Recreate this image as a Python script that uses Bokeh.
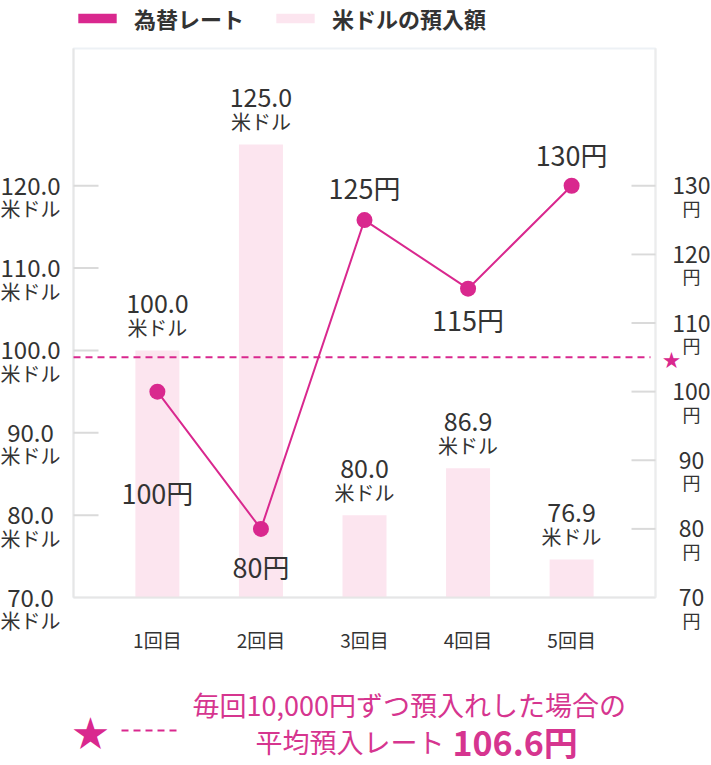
from bokeh.plotting import figure
from bokeh.models import (Range1d, ColumnDataSource, LabelSet, Label, Legend,
                          LegendItem, Arrow)
from bokeh.core.properties import value
from bokeh.embed import file_html
from bokeh.resources import INLINE

# ---------------- data ----------------
categories = ["1回目", "2回目", "3回目", "4回目", "5回目"]
rates = [100, 80, 125, 115, 130]                       # 為替レート (円)
rate_labels = ["100円", "80円", "125円", "115円", "130円"]
deposits = [100.0, 125.0, 80.0, 85.7, 74.6]            # 米ドルの預入額 (bar heights as drawn)
deposit_labels = ["100.0", "125.0", "80.0", "86.9", "76.9"]
usd_ticks = [70, 80, 90, 100, 110, 120]
usd_tick_labels = ["70.0", "80.0", "90.0", "100.0", "110.0", "120.0"]
yen_ticks = [70, 80, 90, 100, 110, 120, 130]
yen_tick_labels = ["70", "80", "90", "100", "110", "120", "130"]
avg_rate_level = 105.0                                  # dashed line level (円 axis)
avg_text_1 = "毎回10,000円ずつ預入れした場合の"
avg_text_2 = "平均預入レート"
avg_text_value = "106.6円"

# ---------------- style / layout ----------------
MAGENTA = "#d9288e"
TEXT_MAG = "#d6358f"
PINK = "#fce5ef"
DARK = "#333333"
FONT = "Noto Sans CJK JP"
rate_label_offsets = [-101, -38, 33, -31, 31]

W, H = 711, 765
PL, PR, PT, PB = 73, 655, 48, 597          # plot area box on the canvas
X_LO, X_HI = 0.19, 5.81
USD_LO, USD_HI = 70, 136.67
YEN_LO, YEN_HI = 70, 150

sx = (PR - PL) / (X_HI - X_LO)
sy = (PB - PT) / (USD_HI - USD_LO)
sr = (PB - PT) / (YEN_HI - YEN_LO)

xs = list(range(1, len(categories) + 1))

p = figure(width=W, height=H, output_backend="svg", toolbar_location=None,
           x_range=Range1d(X_LO - PL / sx, X_HI + (W - PR) / sx),
           y_range=Range1d(USD_LO - (H - PB) / sy, USD_HI + PT / sy),
           x_axis_location=None, y_axis_location=None, min_border=0)
p.extra_y_ranges = {"rate": Range1d(YEN_LO - (H - PB) / sr, YEN_HI + PT / sr)}
p.grid.visible = False
p.outline_line_color = None
p.background_fill_color = "white"
p.border_fill_color = "white"

# plot area box
p.quad(left=[X_LO], right=[X_HI], bottom=[USD_LO], top=[USD_HI],
       fill_color="white", line_color="#edf1f5", line_width=2)

# bars
bars = p.vbar(x=xs, top=deposits, bottom=USD_LO, width=0.425,
              fill_color=PINK, line_color=None)

# axis lines
p.segment(x0=[X_LO, X_LO], y0=[USD_LO, USD_LO], x1=[X_LO, X_HI], y1=[USD_HI, USD_LO],
          line_color="#e6e6e6", line_width=2)
p.segment(x0=[X_HI], y0=[YEN_LO], x1=[X_HI], y1=[YEN_HI], y_range_name="rate",
          line_color="#ececec", line_width=2)

# tick marks (inward)
lt = usd_ticks[1:]
p.segment(x0=[X_LO] * len(lt), x1=[X_LO + 25 / sx] * len(lt), y0=lt, y1=lt,
          line_color="#dadada", line_width=2)
rt = yen_ticks[1:]
p.segment(x0=[X_HI - 24 / sx] * len(rt), x1=[X_HI] * len(rt), y0=rt, y1=rt,
          y_range_name="rate", line_color="#dadada", line_width=2)

# average dashed line
p.line(x=[X_LO, X_HI - 5 / sx], y=[avg_rate_level, avg_rate_level],
       y_range_name="rate", line_color=MAGENTA, line_width=2, line_dash="7 5")

# rate line
p.line(x=xs, y=rates, y_range_name="rate", line_color=MAGENTA, line_width=2)
p.scatter(x=xs, y=rates, y_range_name="rate", size=16, fill_color=MAGENTA,
          line_color=None)

# legend swatch renderer for the rate (zero-height bar, shown only in legend)
swatch = p.vbar(x=[xs[0]], top=[USD_LO], bottom=USD_LO, width=0.4,
                fill_color=MAGENTA, line_color=None)


def labelset(src, text, size, **kw):
    return LabelSet(source=src, text=text, text_align="center",
                    text_baseline="middle", text_font=value(FONT),
                    text_font_size=value(size), text_color=DARK, **kw)


# bar labels
bsrc = ColumnDataSource(dict(x=xs, y=deposits, val=deposit_labels,
                             unit=["米ドル"] * len(xs)))
p.add_layout(labelset(bsrc, "val", "25px", x="x", y="y", y_offset=47))
p.add_layout(labelset(bsrc, "unit", "20px", x="x", y="y", y_offset=23))

# rate labels
rsrc = ColumnDataSource(dict(x=xs, y=rates, t=rate_labels, off=rate_label_offsets))
p.add_layout(labelset(rsrc, "t", "27px", x="x", y="y", y_offset="off",
                      y_range_name="rate"))

# category labels
csrc = ColumnDataSource(dict(x=xs, y=[USD_LO] * len(xs), t=categories))
p.add_layout(labelset(csrc, "t", "19px", x="x", y="y", y_offset=-42))

# left tick labels
lsrc = ColumnDataSource(dict(x=[X_LO] * len(usd_ticks), y=usd_ticks,
                             t=usd_tick_labels, u=["米ドル"] * len(usd_ticks)))
p.add_layout(labelset(lsrc, "t", "24px", x="x", y="y", x_offset=-43))
p.add_layout(labelset(lsrc, "u", "20px", x="x", y="y", x_offset=-43, y_offset=-23))

# right tick labels
rtsrc = ColumnDataSource(dict(x=[X_HI] * len(yen_ticks), y=yen_ticks,
                              t=yen_tick_labels, u=["円"] * len(yen_ticks)))
p.add_layout(labelset(rtsrc, "t", "23px", x="x", y="y", x_offset=36,
                      y_range_name="rate"))
p.add_layout(labelset(rtsrc, "u", "18px", x="x", y="y", x_offset=36, y_offset=-22,
                      y_range_name="rate"))

# star next to right axis
p.add_layout(Label(x=671, y=H - 358, x_units="screen", y_units="screen", text="★",
                   text_align="center", text_baseline="middle",
                   text_font=FONT, text_font_size="18px", text_color=MAGENTA))

# legend on top
legend = Legend(items=[LegendItem(label="為替レート", renderers=[swatch]),
                       LegendItem(label="米ドルの預入額", renderers=[bars])],
                location=(PL, H - 34), orientation="horizontal",
                glyph_width=48, glyph_height=12, label_standoff=13, spacing=27,
                padding=0, margin=0, border_line_color=None,
                background_fill_alpha=0, label_height=24,
                label_text_font=FONT, label_text_font_size="22px",
                label_text_font_style="bold", label_text_color=DARK)
p.add_layout(legend)

# bottom note
p.add_layout(Label(x=90, y=H - 730, x_units="screen", y_units="screen", text="★",
                   text_align="center", text_baseline="middle",
                   text_font=FONT, text_font_size="36px", text_color=MAGENTA))
p.add_layout(Arrow(end=None, x_start=121, y_start=H - 730, x_end=176, y_end=H - 730,
                   start_units="screen", end_units="screen",
                   line_color=MAGENTA, line_width=2, line_dash="7 5"))
p.add_layout(Label(x=192, y=H - 704, x_units="screen", y_units="screen", text=avg_text_1,
                   text_align="left", text_baseline="middle",
                   text_font=FONT, text_font_size="27px", text_color=TEXT_MAG))
p.add_layout(Label(x=255, y=H - 741, x_units="screen", y_units="screen", text=avg_text_2,
                   text_align="left", text_baseline="middle",
                   text_font=FONT, text_font_size="27px", text_color=TEXT_MAG))
p.add_layout(Label(x=452, y=H - 741, x_units="screen", y_units="screen", text=avg_text_value,
                   text_align="left", text_baseline="middle",
                   text_font=FONT, text_font_size="34px", text_font_style="bold",
                   text_color=TEXT_MAG))

open("out.html", "w").write(file_html(p, INLINE))
